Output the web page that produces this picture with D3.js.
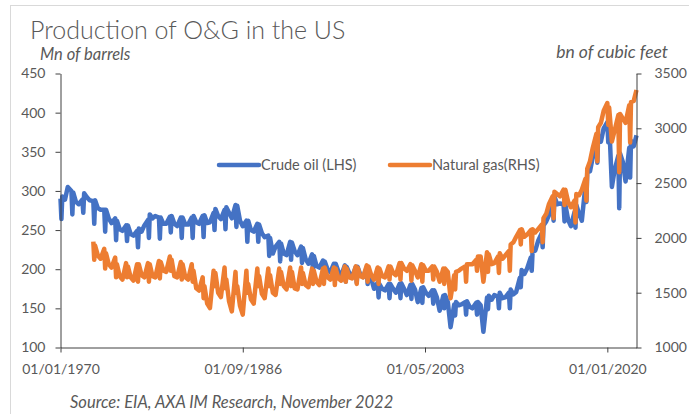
<!DOCTYPE html>
<html>
<head>
<meta charset="utf-8">
<script src="https://cdn.jsdelivr.net/npm/d3@7"></script>
<style>
  body { margin: 0; background: #fff; }
  svg text { font-family: Lato, "Noto Sans", sans-serif; fill: #595959; }
</style>
</head>
<body>
<div id="chart"></div>
<script>
// months sampled in each year row: Jan, Feb, Mar, Jun, Sep
var sampleMonths = [0, 1, 2, 5, 8];

// crude oil production, Mn of barrels (LHS) - [year, Jan, Feb, Mar, Jun, Sep]
var crudeOil = [
  [1970, 290, 264, 293, 289, 305], [1971, 300, 270, 298, 286, 283],
  [1972, 289, 272, 297, 292, 288], [1973, 287, 258, 288, 278, 276],
  [1974, 276, 248, 276, 265, 259], [1975, 265, 237, 262, 251, 249],
  [1976, 256, 236, 256, 245, 243], [1977, 249, 228, 252, 248, 256],
  [1978, 263, 240, 270, 265, 268], [1979, 266, 239, 266, 258, 258],
  [1980, 267, 247, 268, 258, 255], [1981, 266, 240, 266, 257, 257],
  [1982, 266, 240, 268, 260, 258], [1983, 268, 241, 269, 259, 260],
  [1984, 272, 250, 277, 268, 264], [1985, 276, 251, 279, 272, 265],
  [1986, 282, 254, 281, 262, 255], [1987, 262, 235, 262, 250, 248],
  [1988, 258, 235, 257, 246, 241], [1989, 243, 217, 240, 220, 229],
  [1990, 235, 210, 233, 220, 218], [1991, 235, 212, 234, 223, 218],
  [1992, 229, 208, 227, 213, 207], [1993, 219, 197, 217, 204, 202],
  [1994, 211, 191, 210, 200, 196], [1995, 207, 187, 207, 197, 192],
  [1996, 205, 184, 203, 195, 190], [1997, 203, 183, 203, 193, 190],
  [1998, 202, 181, 198, 188, 175], [1999, 183, 164, 181, 175, 173],
  [2000, 181, 163, 181, 175, 170], [2001, 181, 163, 182, 175, 167],
  [2002, 180, 162, 181, 174, 158], [2003, 176, 157, 177, 170, 166],
  [2004, 173, 156, 173, 164, 147], [2005, 166, 150, 167, 158, 126],
  [2006, 155, 141, 158, 154, 155], [2007, 158, 142, 159, 152, 150],
  [2008, 157, 142, 158, 154, 120], [2009, 164, 149, 166, 161, 167],
  [2010, 165, 150, 170, 163, 164], [2011, 170, 150, 174, 168, 171],
  [2012, 189, 177, 199, 194, 201], [2013, 215, 198, 222, 224, 236],
  [2014, 246, 228, 256, 261, 269], [2015, 286, 262, 293, 283, 284],
  [2016, 283, 261, 282, 263, 255], [2017, 273, 253, 282, 271, 262],
  [2018, 308, 286, 324, 325, 343], [2019, 370, 336, 371, 363, 380],
  [2020, 388, 362, 389, 305, 327], [2021, 345, 278, 348, 337, 312],
  [2022, 355, 317, 364, 357, 371]
];

// natural gas production, bn of cubic feet (RHS) - [year, Jan, Feb, Mar, Jun, Sep]
var naturalGas = [
  [1973, 1965, 1800, 1930, 1840, 1810], [1974, 1900, 1720, 1860, 1760, 1730],
  [1975, 1820, 1640, 1760, 1650, 1620], [1976, 1770, 1640, 1740, 1640, 1610],
  [1977, 1760, 1600, 1760, 1660, 1640], [1978, 1770, 1600, 1760, 1650, 1640],
  [1979, 1790, 1630, 1780, 1700, 1690], [1980, 1830, 1700, 1800, 1650, 1640],
  [1981, 1780, 1620, 1760, 1640, 1620], [1982, 1760, 1600, 1700, 1540, 1520],
  [1983, 1640, 1450, 1560, 1400, 1360], [1984, 1700, 1560, 1680, 1500, 1460],
  [1985, 1730, 1540, 1620, 1420, 1330], [1986, 1690, 1500, 1560, 1380, 1300],
  [1987, 1700, 1500, 1580, 1440, 1400], [1988, 1720, 1560, 1650, 1490, 1450],
  [1989, 1720, 1560, 1660, 1500, 1480], [1990, 1720, 1580, 1690, 1560, 1530],
  [1991, 1730, 1560, 1690, 1540, 1530], [1992, 1730, 1580, 1680, 1570, 1550],
  [1993, 1720, 1580, 1700, 1600, 1570], [1994, 1720, 1580, 1730, 1640, 1620],
  [1995, 1730, 1570, 1720, 1630, 1610], [1996, 1740, 1600, 1720, 1640, 1630],
  [1997, 1740, 1580, 1730, 1650, 1640], [1998, 1750, 1600, 1740, 1660, 1620],
  [1999, 1730, 1580, 1720, 1650, 1640], [2000, 1740, 1620, 1740, 1680, 1660],
  [2001, 1770, 1620, 1770, 1720, 1700], [2002, 1760, 1610, 1750, 1700, 1640],
  [2003, 1760, 1600, 1750, 1700, 1700], [2004, 1740, 1620, 1740, 1690, 1600],
  [2005, 1720, 1580, 1720, 1690, 1450], [2006, 1660, 1530, 1690, 1700, 1720],
  [2007, 1740, 1600, 1760, 1760, 1760], [2008, 1800, 1700, 1830, 1830, 1600],
  [2009, 1870, 1690, 1850, 1760, 1770], [2010, 1830, 1680, 1860, 1810, 1840],
  [2011, 1880, 1700, 1940, 1960, 2010], [2012, 2070, 1940, 2080, 2010, 2030],
  [2013, 2070, 1880, 2080, 2050, 2080], [2014, 2120, 1960, 2180, 2220, 2310],
  [2015, 2380, 2180, 2420, 2400, 2380], [2016, 2440, 2300, 2440, 2330, 2280],
  [2017, 2340, 2140, 2400, 2390, 2440], [2018, 2540, 2340, 2630, 2700, 2820],
  [2019, 2950, 2700, 3010, 3050, 3160], [2020, 3230, 3030, 3190, 2880, 2980],
  [2021, 3120, 2600, 3130, 3090, 3050], [2022, 3210, 2870, 3240, 3250, 3350]
];

var leftTicks = [100, 150, 200, 250, 300, 350, 400, 450];
var rightTicks = [1000, 1500, 2000, 2500, 3000, 3500];
var xTickDates = ["1970-01-01", "1986-09-01", "2003-05-01", "2020-01-01"];

var width = 689, height = 414;
var plot = {left: 60.5, right: 636.5, top: 73.5, bottom: 347.5};

var svg = d3.select('#chart').append('svg')
    .attr('width', width)
    .attr('height', height);

svg.append('rect')
    .attr('width', width).attr('height', height)
    .attr('fill', '#fff');
// light frame of the chart object
svg.append('rect')
    .attr('x', 10.5).attr('y', 5.5)
    .attr('width', 700).attr('height', 500)
    .attr('fill', 'none')
    .attr('stroke', '#d9d9d9');

var parse = d3.timeParse('%Y-%m-%d');
var x = d3.scaleTime()
    .domain([new Date(1970, 0, 1), new Date(2022, 8, 1)])
    .range([plot.left, plot.right]);
var yL = d3.scaleLinear().domain([100, 450]).range([plot.bottom, plot.top]);
var yR = d3.scaleLinear().domain([1000, 3500]).range([plot.bottom, plot.top]);

// flatten the yearly rows into dated points
function toPoints(rows) {
    var pts = [];
    rows.forEach(function(r) {
        sampleMonths.forEach(function(m, k) {
            if (r[k + 1] != null) pts.push({date: new Date(r[0], m, 1), value: r[k + 1]});
        });
    });
    return pts;
}

var oilPts = toPoints(crudeOil);
var gasPts = toPoints(naturalGas);

var lineL = d3.line().x(d => x(d.date)).y(d => yL(d.value));
var lineR = d3.line().x(d => x(d.date)).y(d => yR(d.value));

svg.append('path')
    .datum(oilPts)
    .attr('d', lineL)
    .attr('fill', 'none')
    .attr('stroke', '#4472C4')
    .attr('stroke-width', 4.5)
    .attr('stroke-linejoin', 'round');

svg.append('path')
    .datum(gasPts)
    .attr('d', lineR)
    .attr('fill', 'none')
    .attr('stroke', '#ED7D31')
    .attr('stroke-width', 4.5)
    .attr('stroke-linejoin', 'round');

// axes
function styleAxis(g) {
    g.selectAll('path, line').attr('stroke', '#404040');
    g.selectAll('text').attr('font-size', 14).attr('fill', '#595959');
}

svg.append('g')
    .attr('transform', 'translate(' + plot.left + ',0)')
    .call(d3.axisLeft(yL).tickValues(leftTicks).tickSize(5).tickSizeOuter(0).tickPadding(10))
    .call(styleAxis);

svg.append('g')
    .attr('transform', 'translate(' + plot.right + ',0)')
    .call(d3.axisRight(yR).tickValues(rightTicks).tickFormat(d3.format('d'))
        .tickSize(5).tickSizeOuter(0).tickPadding(13))
    .call(styleAxis);

svg.append('g')
    .attr('transform', 'translate(0,' + plot.bottom + ')')
    .call(d3.axisBottom(x).tickValues(xTickDates.map(parse)).tickFormat(d3.timeFormat('%d/%m/%Y'))
        .tickSize(5).tickSizeOuter(0).tickPadding(12))
    .call(styleAxis);

// title and unit labels
svg.append('text')
    .attr('x', 30).attr('y', 39)
    .attr('font-size', 25)
    .attr('font-weight', 300)
    .text('Production of O&G in the US');

svg.append('text')
    .attr('x', 40).attr('y', 60)
    .attr('font-size', 16.5).attr('font-style', 'italic')
    .text('Mn of barrels');

svg.append('text')
    .attr('x', 668).attr('y', 58)
    .attr('text-anchor', 'end')
    .attr('font-size', 17.5).attr('font-style', 'italic')
    .text('bn of cubic feet');

// legend
var legend = [
    {label: 'Crude oil (LHS)', color: '#4472C4', x: 219},
    {label: 'Natural gas(RHS)', color: '#ED7D31', x: 390}
];
var lg = svg.selectAll('g.legend')
    .data(legend)
    .enter()
    .append('g')
    .attr('class', 'legend')
    .attr('transform', d => 'translate(' + d.x + ',165)');
lg.append('line')
    .attr('x1', 0).attr('x2', 40)
    .attr('stroke', d => d.color)
    .attr('stroke-width', 4.5)
    .attr('stroke-linecap', 'round');
lg.append('text')
    .attr('x', 42).attr('dy', '0.35em')
    .attr('font-size', 14.5)
    .text(d => d.label);

svg.append('text')
    .attr('x', 70).attr('y', 408)
    .attr('font-size', 16.5).attr('font-style', 'italic')
    .text('Source: EIA, AXA IM Research, November 2022');
</script>
</body>
</html>
